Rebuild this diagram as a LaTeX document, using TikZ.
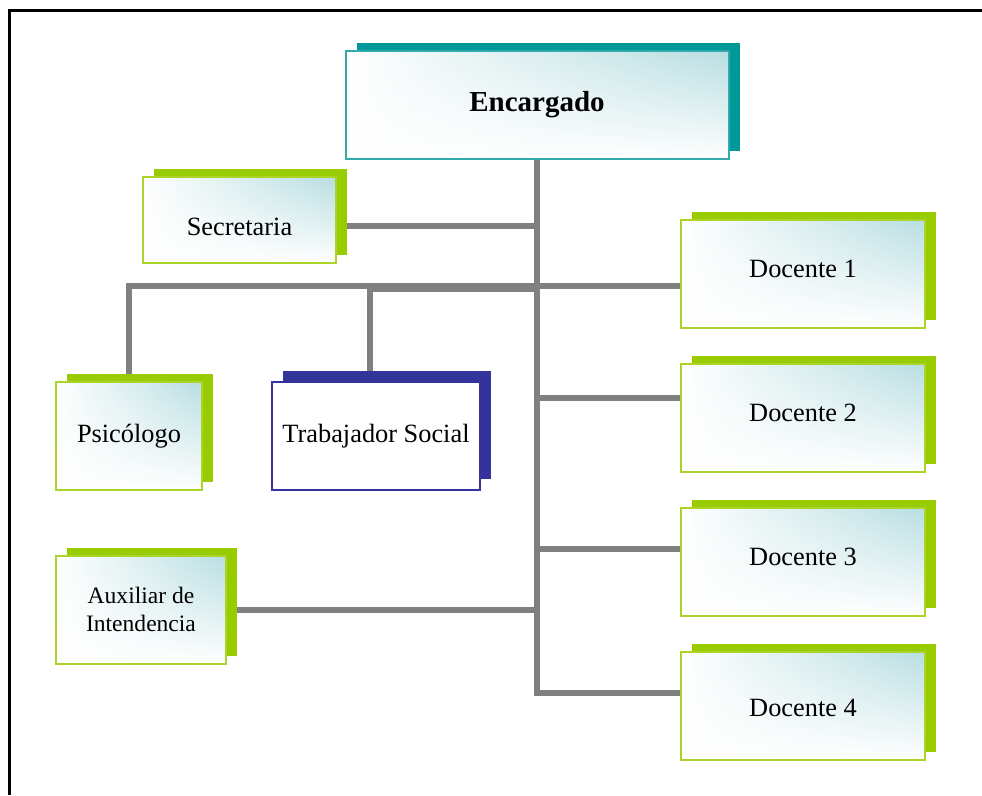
\documentclass[tikz,border=0pt]{standalone}
\usepackage{fontspec}
\setmainfont{Liberation Serif}
\usetikzlibrary{calc,shadows,fadings,backgrounds}

\definecolor{limeg}{RGB}{153,204,0}
\definecolor{limeb}{RGB}{170,212,40}
\definecolor{tealg}{RGB}{0,153,153}
\definecolor{tealb}{RGB}{51,170,170}
\definecolor{navyb}{RGB}{51,51,153}
\definecolor{paleteal}{RGB}{184,222,226}
\definecolor{linkgray}{RGB}{128,128,128}

\tikzfading[name=fadebottom, top color=transparent!100, middle color=transparent!80, bottom color=transparent!0]

\tikzset{
	link/.style={line width=0.12cm, color=linkgray},
	orgbox/.style={minimum height=2.16cm, inner sep=0pt, align=center, font=\fontsize{15}{17}\selectfont, left color=white, right color=paleteal, postaction={fill=white, path fading=fadebottom}},
	greenbox/.style={orgbox, postaction={draw=limeb, line width=0.04cm}, general shadow={fill=limeg, shadow xshift=0.22cm, shadow yshift=0.16cm}},
	tealbox/.style={orgbox, postaction={draw=tealb, line width=0.04cm}, general shadow={fill=tealg, shadow xshift=0.22cm, shadow yshift=0.16cm}},
	navybox/.style={minimum height=2.16cm, inner sep=0pt, align=center, font=\fontsize{15}{17}\selectfont, draw=navyb, line width=0.04cm, fill=white, general shadow={fill=navyb, shadow xshift=0.22cm, shadow yshift=0.22cm}},
}

\begin{document}
\begin{tikzpicture}
		%%%%% START %%%%%
		\useasboundingbox (0,0) rectangle (19.64,-15.9);
		
		\draw[line width=0.05cm] (0.19,-15.9) -- (0.19,-0.21) -- (19.64,-0.21);
		
		\node[tealbox, minimum width=7.66cm, font=\fontsize{16.5}{19}\selectfont\bfseries] (enc) at (10.74,-2.10) {Encargado};
		\node[greenbox, minimum width=3.86cm, minimum height=1.72cm, text height=0.63cm] (sec) at (4.79,-4.40) {Secretaria};
		
		\node[greenbox, minimum width=2.92cm] (psi) at (2.58,-8.72) {Psicólogo};
		\node[navybox, minimum width=4.16cm] (trab) at (7.52,-8.72) {Trabajador Social};
		\node[greenbox, minimum width=3.40cm, font=\fontsize{13.4}{15.9}\selectfont] (aux) at (2.82,-12.19) {Auxiliar de\\Intendencia};
		
		\foreach \i in {1,2,3}
			\node[greenbox, minimum width=4.88cm, text depth=0.2cm] (doc\i) at (16.06, {-5.47-2.88*(\i-1)}) {Docente \i};
		\node[greenbox, minimum width=4.88cm, text height=0.46cm] (doc4) at (16.06,-14.11) {Docente 4};
		
		% junctions on the trunk
		\coordinate (js) at (10.74,-4.52);
		\coordinate (jt) at (10.74,-5.77);
		\foreach \i/\y in {1/-5.72, 2/-7.96, 3/-10.98, 4/-13.85}
			\coordinate (j\i) at (10.74,\y);
		
		\begin{scope}[on background layer]
			\draw[link] (enc.south) -- (j4) -- (j4 -| doc4.west);
			\foreach \i in {1,2,3}
				\draw[link] (j\i) -- (j\i -| doc\i.west);
			\draw[link] (js) -- (js -| sec.east);
			\draw[link] (psi.north) |- (j1);
			\draw[link] ([xshift=-0.12cm]trab.north) |- (jt);
			\draw[link] (aux.east) -- (aux.east -| j4);
		\end{scope}
		
		%%%%% END %%%%%
\end{tikzpicture}
\end{document}
